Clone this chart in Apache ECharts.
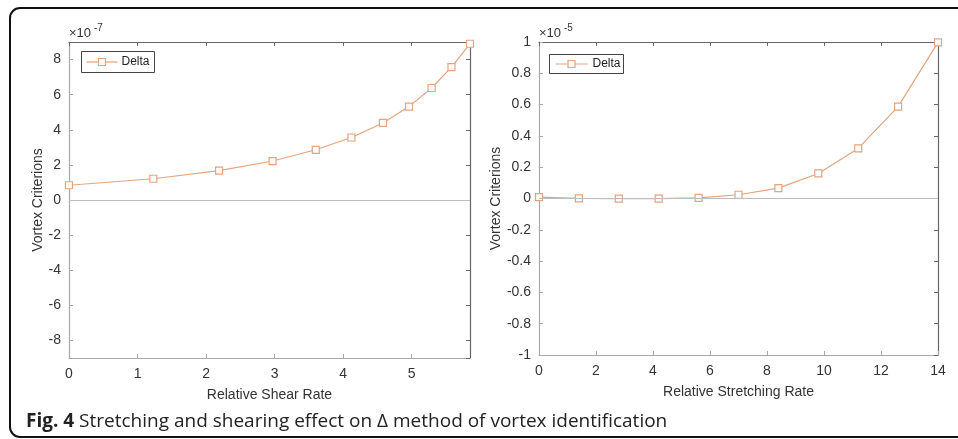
<!DOCTYPE html>
<html><head><meta charset="utf-8">
<script src="https://cdn.jsdelivr.net/npm/echarts@6/dist/echarts.min.js"></script>
<style>html,body{margin:0;padding:0;background:#fff}#c{width:958px;height:439px}</style>
</head><body><div id="c"></div>
<script>
// Left panel: Relative Shear Rate vs Vortex Criterions (x 1e-7)
const shearX = [0, 1.23, 2.19, 2.97, 3.60, 4.12, 4.58, 4.96, 5.29, 5.58, 5.85];
const shearY = [0.84, 1.21, 1.67, 2.22, 2.86, 3.56, 4.39, 5.32, 6.38, 7.57, 8.9];
// Right panel: Relative Stretching Rate vs Vortex Criterions (x 1e-5)
const stretchX = [0, 1.4, 2.8, 4.2, 5.6, 7.0, 8.4, 9.8, 11.2, 12.6, 14.0];
const stretchY = [0.009, 0.001, -0.001, -0.001, 0.004, 0.024, 0.066, 0.16, 0.32, 0.587, 0.998];
const seriesName = 'Delta';
const leftExp = '-7', rightExp = '-5';
const caption = ['Fig. 4', ' Stretching and shearing effect on Δ method of vortex identification'];

const lineColor = '#e3a47f';
const txt = '#333';
const lightAx = '#a8a8a8', darkAx = '#666';
const font = 'Liberation Sans, Arial, sans-serif';
const fs = 14;

function pair(xs, ys){ return xs.map((x,i)=>[x, ys[i]]); }

const chart = echarts.init(document.getElementById('c'), null, {renderer:'canvas'});
const grids = [
  {left:69, top:42, width:401, height:316},
  {left:539, top:42, width:399, height:313}
];
function xMain(gi, max, interval, name){
  return {type:'value', gridIndex:gi, min:0, max:max, interval:interval, position:'bottom',
    name:name, nameLocation:'middle', nameGap:30, nameTextStyle:{color:txt, fontSize:fs, fontFamily:font},
    axisLine:{show:true, onZero:false, lineStyle:{color:lightAx, width:1.2}},
    axisTick:{show:true, inside:true, length:4, lineStyle:{color:lightAx}},
    axisLabel:{color:txt, fontSize:fs, fontFamily:font, margin:9, showMaxLabel: gi===1},
    splitLine:{show:false}};
}
function xTop(gi, max, interval){
  return {type:'value', gridIndex:gi, min:0, max:max, interval:interval, position:'top',
    axisLine:{show:true, onZero:false, lineStyle:{color:darkAx, width:1.2}},
    axisTick:{show:true, inside:true, length:4, lineStyle:{color:darkAx}},
    axisLabel:{show:false}, splitLine:{show:false}};
}
const chartOpt = {
  animation:false,
  backgroundColor:'#fff',
  grid: grids,
  xAxis: [
    xMain(0, 5.85, 1, 'Relative Shear Rate'),
    xMain(1, 14, 2, 'Relative Stretching Rate'),
    xTop(0, 5.85, 1),
    xTop(1, 14, 2)
  ],
  yAxis: [
    {type:'value', gridIndex:0, min:-9, max:9, splitNumber:9, position:'left',
     name:'Vortex Criterions', nameLocation:'middle', nameGap:21, nameTextStyle:{color:txt, fontSize:fs, fontFamily:font},
     axisLine:{show:true, onZero:false, lineStyle:{color:lightAx, width:1.2}},
     axisTick:{show:true, inside:true, length:4, lineStyle:{color:lightAx}},
     axisLabel:{color:txt, fontSize:fs, fontFamily:font, margin:8, showMinLabel:false, showMaxLabel:false},
     splitLine:{show:false}},
    {type:'value', gridIndex:1, min:-1, max:1, interval:0.2, position:'left',
     name:'Vortex Criterions', nameLocation:'middle', nameGap:31, nameTextStyle:{color:txt, fontSize:fs, fontFamily:font},
     axisLine:{show:true, onZero:false, lineStyle:{color:lightAx, width:1.2}},
     axisTick:{show:true, inside:true, length:4, lineStyle:{color:lightAx}},
     axisLabel:{color:txt, fontSize:fs, fontFamily:font, margin:8},
     splitLine:{show:false}},
    {type:'value', gridIndex:0, min:-9, max:9, splitNumber:9, position:'right',
     axisLine:{show:true, onZero:false, lineStyle:{color:darkAx, width:1.2}},
     axisTick:{show:true, inside:true, length:4, lineStyle:{color:darkAx}},
     axisLabel:{show:false}, splitLine:{show:false}},
    {type:'value', gridIndex:1, min:-1, max:1, interval:0.2, position:'right',
     axisLine:{show:true, onZero:false, lineStyle:{color:darkAx, width:1.2}},
     axisTick:{show:true, inside:true, length:4, lineStyle:{color:darkAx}},
     axisLabel:{show:false}, splitLine:{show:false}}
  ],
  series: [
    {type:'line', name:seriesName, xAxisIndex:0, yAxisIndex:0, data:pair(shearX, shearY),
     symbol:'rect', symbolSize:7, showAllSymbol:true,
     lineStyle:{color:lineColor, width:1.2}, itemStyle:{color:'#fff', borderColor:lineColor, borderWidth:1.2},
     markLine:{silent:true, symbol:'none', label:{show:false}, lineStyle:{color:'#bdbdbd', width:1, type:'solid'}, data:[{yAxis:0}]}},
    {type:'line', name:seriesName, xAxisIndex:1, yAxisIndex:1, data:pair(stretchX, stretchY),
     symbol:'rect', symbolSize:7, showAllSymbol:true,
     lineStyle:{color:lineColor, width:1.2}, itemStyle:{color:'#fff', borderColor:lineColor, borderWidth:1.2},
     markLine:{silent:true, symbol:'none', label:{show:false}, lineStyle:{color:'#bdbdbd', width:1, type:'solid'}, data:[{yAxis:0}]}}
  ],
  graphic: [
    {type:'rect', z:-1, shape:{x:10, y:8, width:990, height:429, r:10}, style:{fill:'none', stroke:'#111', lineWidth:2}},
    // exponent labels
    {type:'text', left:69, top:27, style:{text:'×10', fill:txt, fontSize:13, fontFamily:font}},
    {type:'text', left:94, top:23, style:{text:leftExp, fill:txt, fontSize:10, fontFamily:font}},
    {type:'text', left:539, top:27, style:{text:'×10', fill:txt, fontSize:13, fontFamily:font}},
    {type:'text', left:564, top:23, style:{text:rightExp, fill:txt, fontSize:10, fontFamily:font}},
    // legends
    {type:'group', left:81, top:51, children:[
      {type:'rect', shape:{x:0, y:0, width:73, height:21}, style:{fill:'#fff', stroke:'#444', lineWidth:1}},
      {type:'line', shape:{x1:5, y1:10.5, x2:36, y2:10.5}, style:{stroke:lineColor, lineWidth:1.2}},
      {type:'rect', shape:{x:17, y:7, width:7, height:7}, style:{fill:'#fff', stroke:lineColor, lineWidth:1.2}},
      {type:'text', x:40, y:4, style:{text:seriesName, fill:'#222', fontSize:12, fontFamily:font}}
    ]},
    {type:'group', left:549, top:54, children:[
      {type:'rect', shape:{x:0, y:0, width:74, height:19}, style:{fill:'#fff', stroke:'#444', lineWidth:1}},
      {type:'line', shape:{x1:6, y1:9.5, x2:38, y2:9.5}, style:{stroke:lineColor, lineWidth:1.2}},
      {type:'rect', shape:{x:18.5, y:6, width:7, height:7}, style:{fill:'#fff', stroke:lineColor, lineWidth:1.2}},
      {type:'text', x:43, y:3, style:{text:seriesName, fill:'#222', fontSize:12, fontFamily:font}}
    ]},
    // caption
    {type:'text', left:26, top:412, style:{rich:{b:{fontWeight:'bold', fontSize:19, fontFamily:'Open Sans', fill:'#222'}, n:{fontSize:19, fontFamily:'Open Sans', fill:'#222'}},
      text:'{b|'+caption[0]+'}{n|'+caption[1]+'}'}}
  ]
};
chart.setOption(chartOpt);
</script></body></html>
